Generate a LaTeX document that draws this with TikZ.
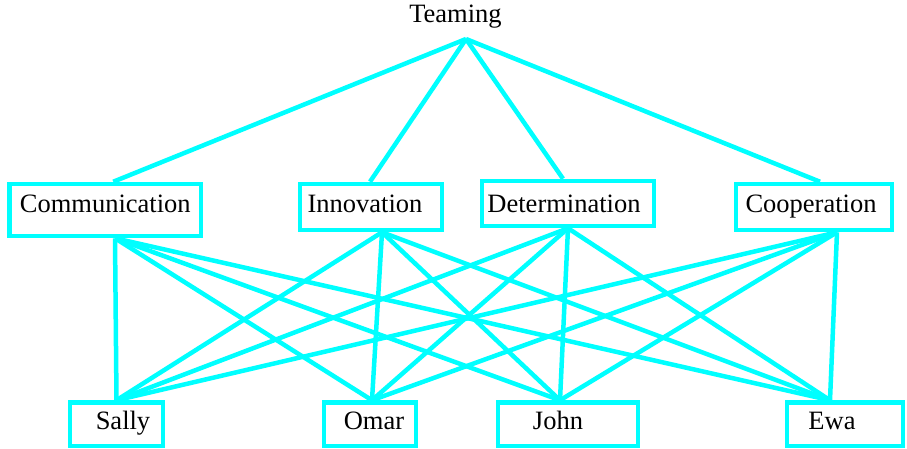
\documentclass[tikz,border=0pt]{standalone}
\usepackage{fontspec}
\setmainfont{Liberation Serif}
\definecolor{edgecyan}{RGB}{0,255,255}
\newcommand{\offtext}[2]{\hspace*{#1}#2\hspace*{-#1}}
\begin{document}
\begin{tikzpicture}[x=1pt,y=-1pt,
  lbl/.style={font=\fontsize{26.5}{30}\selectfont},
  box/.style={lbl, draw=edgecyan, line width=4.5pt, inner sep=0pt},
  midbox/.style={box, text height=28pt, text depth=18pt, minimum height=46pt},
  lowbox/.style={box, text height=26.5pt, text depth=17pt, minimum height=43.5pt},
  link/.style={draw=edgecyan, line width=4.5pt}]
\useasboundingbox (0,0) rectangle (907,449);

\node[lbl, inner sep=0pt, anchor=base] (teaming) at (455.5,23) {Teaming};

\node[box, minimum width=191.5pt, minimum height=52pt, text height=28pt, text depth=24pt] (comm) at (105.25,210) {Communication};
\node[midbox, minimum width=142pt] (inn) at (371,207) {\offtext{-6pt}{Innovation}};
\node[box, minimum width=172pt, minimum height=45pt, text height=31pt, text depth=14pt] (det) at (568,203.5) {\offtext{-4pt}{Determination}};
\node[midbox, minimum width=156pt] (coop) at (814,207) {\offtext{-3pt}{Cooperation}};

\node[lowbox, minimum width=93pt] (sally) at (116.5,424.25) {\offtext{6.5pt}{Sally}};
\node[lowbox, minimum width=92pt] (omar) at (370,424.25) {\offtext{4pt}{Omar}};
\node[lowbox, minimum width=140pt] (john) at (568,424.25) {\offtext{-10pt}{John}};
\node[lowbox, minimum width=116pt] (ewa) at (845,424.25) {\offtext{-13pt}{Ewa}};

\coordinate (tj) at ([shift={(10.5,16)}]teaming.base);

\coordinate (commT) at ([xshift=8pt]comm.north);
\coordinate (innT) at ([xshift=-1pt]inn.north);
\coordinate (detT) at ([xshift=-5pt]det.north);
\coordinate (coopT) at ([xshift=6pt]coop.north);

\coordinate (commB) at ([xshift=9.75pt]comm.south);
\coordinate (innB) at ([xshift=11pt]inn.south);
\coordinate (detB) at (det.south);
\coordinate (coopB) at ([xshift=23pt]coop.south);

\coordinate (sallyT) at (sally.north);
\coordinate (omarT) at ([xshift=2pt]omar.north);
\coordinate (johnT) at ([xshift=-8pt]john.north);
\coordinate (ewaT) at ([xshift=-15pt]ewa.north);

\foreach \m in {comm,inn,det,coop}{
  \draw[link] (tj) -- (\m T);
  \foreach \b in {sally,omar,john,ewa}{
    \draw[link] (\m B) -- (\b T);
  }
}
\end{tikzpicture}
\end{document}
